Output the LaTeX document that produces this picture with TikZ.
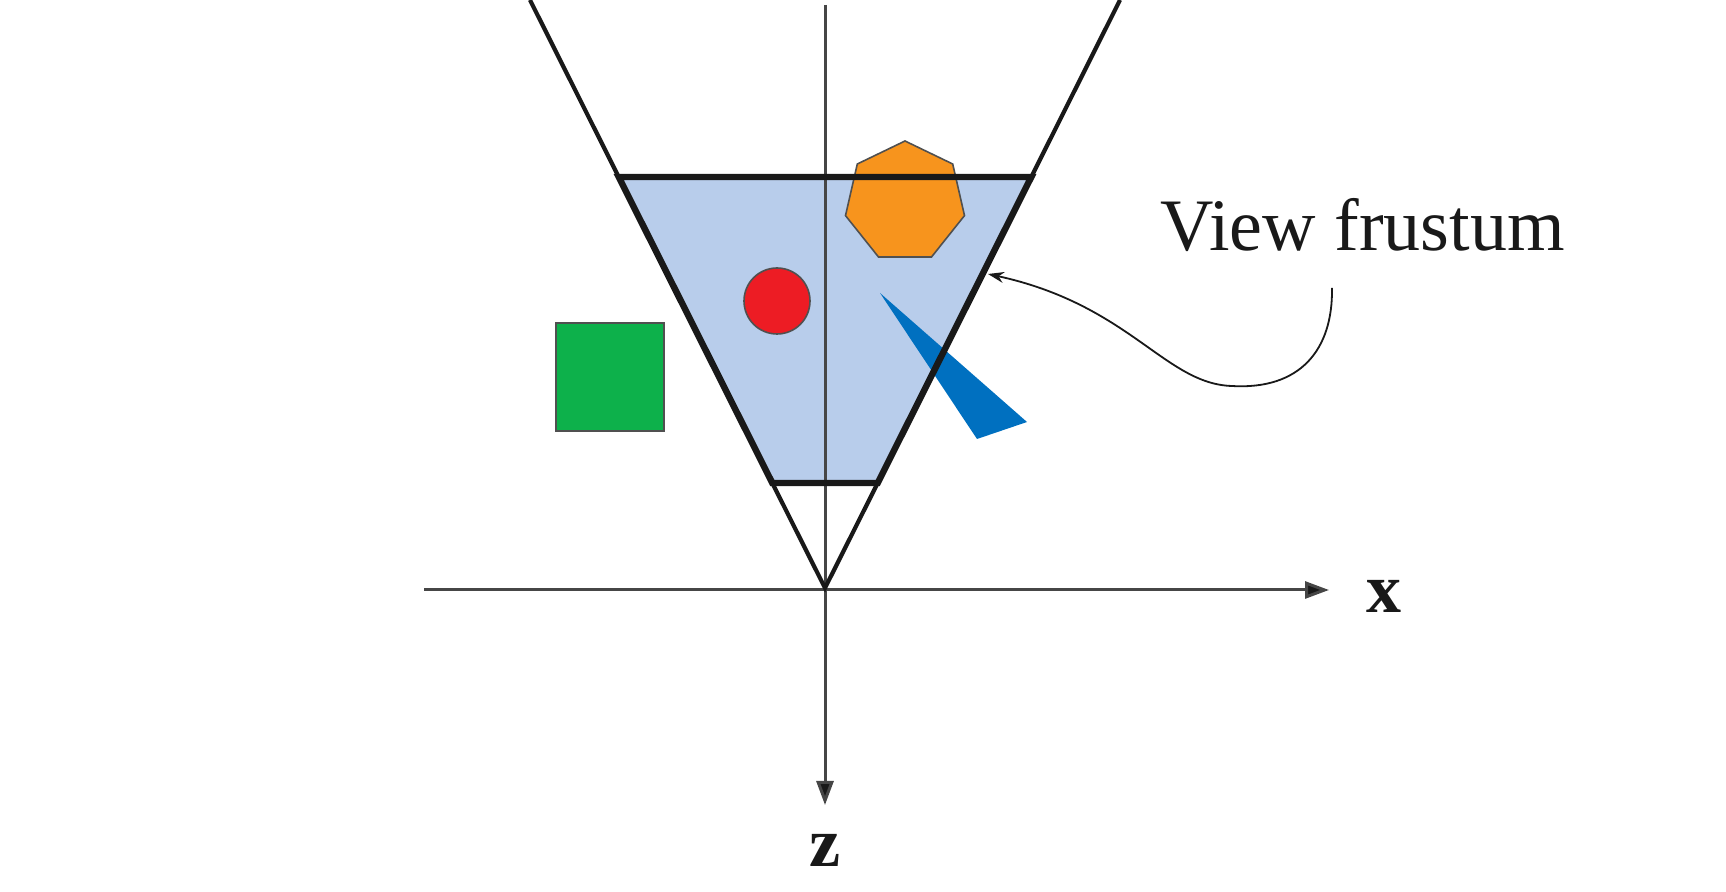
\documentclass[tikz,border=0pt]{standalone}
\usepackage{fontspec}
\setmainfont{Liberation Serif}
\usetikzlibrary{arrows.meta}
\definecolor{fbl}{RGB}{184,205,235}
\definecolor{forange}{RGB}{247,148,29}
\definecolor{fred}{RGB}{237,28,36}
\definecolor{fgreen}{RGB}{13,177,75}
\definecolor{fblue}{RGB}{0,112,192}
\definecolor{shstroke}{RGB}{80,80,80}
\definecolor{axcol}{RGB}{70,70,70}
\definecolor{ink}{RGB}{25,25,25}
\tikzset{
  thickedge/.style={draw=ink,line width=3.2pt,line join=miter},
  thinedge/.style={draw=ink,line width=2.1pt},
  shapeline/.style={draw=shstroke,line width=0.8pt},
  axisline/.style={draw=axcol,line width=1.5pt,-{Triangle[length=12pt,width=8.5pt,fill=ink]}},
  callout/.style={draw=ink,line width=0.9pt,-{Stealth[length=8pt,width=5.5pt]}},
  lbl/.style={inner sep=0pt,text=ink,font=\fontsize{37}{44}\selectfont},
  axlbl/.style={inner sep=0pt,text=ink,font=\fontsize{35}{42}\selectfont\bfseries},
}
\begin{document}
\begin{tikzpicture}[x=0.5pt,y=-0.5pt]
\useasboundingbox (0,0) rectangle (1726,892);
% key points
\coordinate (apex) at (825,588);
\coordinate (nl) at (772.3,483);
\coordinate (nr) at (877.7,483);
\coordinate (fl) at (618.7,177);
\coordinate (fr) at (1031.3,177);
\coordinate (tl) at (530,0);
\coordinate (tr) at (1120,0);
\coordinate (xs) at (424,590);
\coordinate (xe) at (1329,590);
\coordinate (zs) at (825,5);
\coordinate (ze) at (825,805);
% frustum fill
\fill[fbl] (fl) -- (fr) -- (nr) -- (nl) -- cycle;
% objects
\draw[shapeline,fill=fgreen] (556,323) rectangle (664,431);
\draw[shapeline,fill=fred] (777,301) circle[radius=33];
\draw[shapeline,fill=forange] (905,141) -- (857.3,164) -- (845.5,215.6) -- (878.5,257) -- (931.5,257) -- (964.5,215.6) -- (952.7,164) -- cycle;
\fill[fblue] (880,293) -- (1027,422) -- (977,439) -- cycle;
% axes
\draw[axisline] (xs) -- (xe);
\draw[axisline] (zs) -- (ze);
% frustum lines
\draw[thinedge] (tl) -- (fl);
\draw[thinedge] (tr) -- (fr);
\draw[thinedge,line join=miter] (nl) -- (apex) -- (nr);
\draw[thickedge] (fl) -- (fr) -- (nr) -- (nl) -- cycle;
% labels
\node[lbl,anchor=base west] (vf) at (1160,251) {View frustum};
\node[axlbl,anchor=base west] (xl) at (1366,613) {x};
\node[axlbl,anchor=base west] (zl) at (809,867) {z};
% callout
\coordinate (foot) at (1332,288);
\coordinate (tip) at (988,274);
\draw[callout] (foot) .. controls (1333,350) and (1300,390) .. (1232,386) .. controls (1165,384) and (1130,305) .. (tip);
\end{tikzpicture}
\end{document}
